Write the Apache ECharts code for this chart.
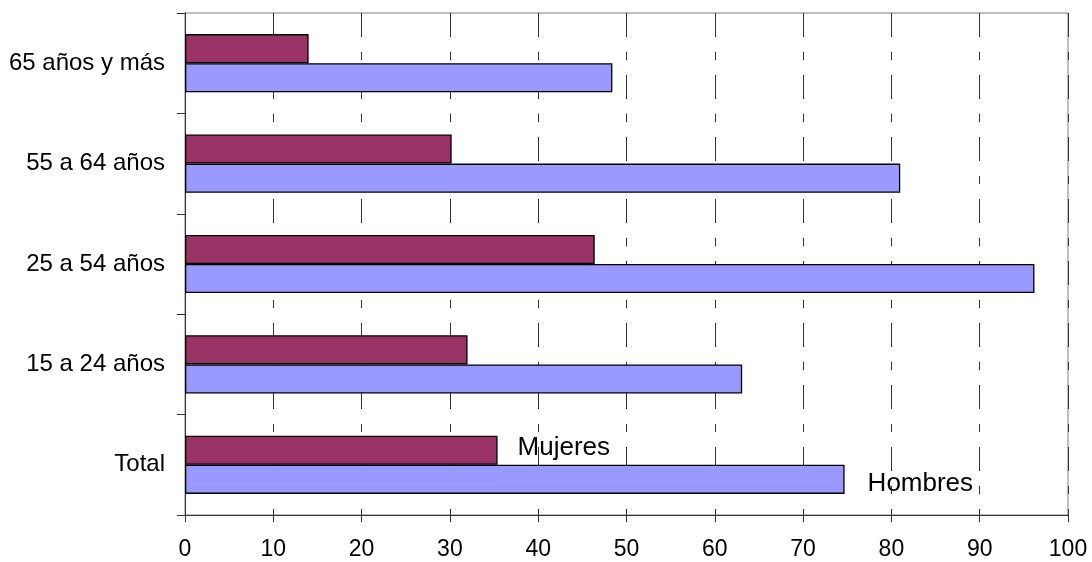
<!DOCTYPE html>
<html>
<head>
<meta charset="utf-8">
<script src="https://cdn.jsdelivr.net/npm/echarts@6/dist/echarts.min.js"></script>
<style>
html,body{margin:0;padding:0;background:#fff;}
#chart{width:1092px;height:562px;}
</style>
</head>
<body>
<div id="chart"></div>
<script>
const categories = ['Total', '15 a 24 años', '25 a 54 años', '55 a 64 años', '65 años y más'];
const mujeres = [35.4, 32.0, 46.4, 30.2, 14.0];
const hombres = [74.7, 63.1, 96.2, 81.0, 48.4];
const xTicks = [0, 10, 20, 30, 40, 50, 60, 70, 80, 90, 100];

const FONT = '"Liberation Sans", Arial, sans-serif';
const chart = echarts.init(document.getElementById('chart'), null, {renderer: 'canvas'});

function withLabel(values, name, labelOpts) {
  return values.map((v, i) => i === 0 ? {
    value: v,
    label: Object.assign({
      show: true, position: 'right', formatter: name,
      color: '#000', fontFamily: FONT, fontSize: 26
    }, labelOpts)
  } : v);
}

chart.setOption({
  animation: false,
  backgroundColor: '#fff',
  grid: {left: 185, right: 24, top: 13, bottom: 47, show: true, borderColor: '#808080', borderWidth: 1},
  xAxis: {
    type: 'value', min: xTicks[0], max: xTicks[xTicks.length - 1], interval: 10,
    axisLine: {show: true, lineStyle: {color: '#333', width: 1}},
    axisTick: {show: true, inside: false, length: 7, lineStyle: {color: '#333'}},
    axisLabel: {color: '#000', fontFamily: FONT, fontSize: 23, margin: 23},
    splitLine: {show: true, lineStyle: {color: '#333', width: 1, type: [24, 15, 8, 15]}}
  },
  yAxis: {
    type: 'category', data: categories,
    axisLine: {show: true, lineStyle: {color: '#333', width: 1}},
    axisTick: {show: true, length: 8, lineStyle: {color: '#333'}},
    axisLabel: {color: '#000', fontFamily: FONT, fontSize: 24, margin: 20},
    splitLine: {show: false}
  },
  series: [
    {
      name: 'Mujeres', type: 'bar',
      data: withLabel(mujeres, 'Mujeres', {distance: 20, offset: [0, -2]}),
      barGap: '0%', barCategoryGap: '42%',
      itemStyle: {color: '#993366', borderColor: '#000', borderWidth: 1.3}
    },
    {
      name: 'Hombres', type: 'bar',
      data: withLabel(hombres, 'Hombres', {distance: 23, offset: [0, 4]}),
      barGap: '0%', barCategoryGap: '42%',
      itemStyle: {color: '#9999FF', borderColor: '#000', borderWidth: 1.3}
    }
  ]
});
</script>
</body>
</html>
